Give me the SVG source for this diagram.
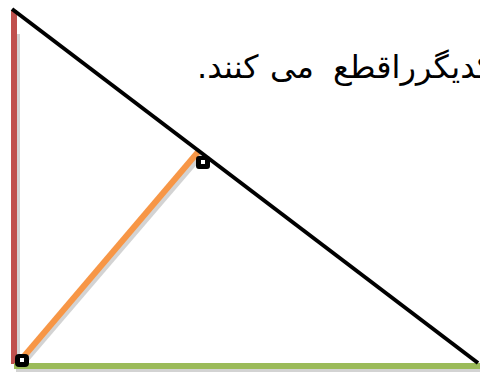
<svg xmlns="http://www.w3.org/2000/svg" width="480" height="374" viewBox="0 0 480 374">
<style>
.sh{stroke:#c8c8c8;fill:none;opacity:0.8}
.mk{fill:#000;stroke:#000;stroke-width:2;stroke-linejoin:round}
.mki{fill:#fff}
.t{font-family:"DejaVu Sans",sans-serif;font-size:32px;fill:#000}
</style>
<rect width="480" height="374" fill="#fff"/>
<g id="connectors">
<line class="sh" x1="17" y1="34" x2="17" y2="366" stroke-width="6"/>
<line class="sh" x1="16" y1="369" x2="480" y2="369" stroke-width="6"/>
<line class="sh" x1="23" y1="363" x2="201" y2="155" stroke-width="6"/>
<line id="red" x1="14" y1="10" x2="14" y2="364" stroke="#C0504D" stroke-width="6"/>
<line id="green" x1="14" y1="366" x2="480" y2="366" stroke="#9BBB59" stroke-width="6"/>
<line id="orange" x1="20" y1="361" x2="198" y2="152" stroke="#F79646" stroke-width="6"/>
<line id="black" x1="12" y1="9" x2="478" y2="363" stroke="#000" stroke-width="4"/>
</g>
<g id="marker-bottom">
<rect class="mk" x="16" y="355" width="12" height="11" rx="3"/>
<rect class="mki" x="20" y="358" width="4" height="4"/>
</g>
<g id="marker-top">
<rect class="mk" x="197" y="157" width="12" height="11" rx="2"/>
<rect class="mki" x="201" y="160" width="4" height="4"/>
</g>
<g id="label">
<text class="t" y="78" direction="rtl" text-anchor="end"><tspan x="197">کنند.</tspan><tspan x="270">می</tspan><tspan x="333">یکدیگرراقطع</tspan></text>
</g>
</svg>
